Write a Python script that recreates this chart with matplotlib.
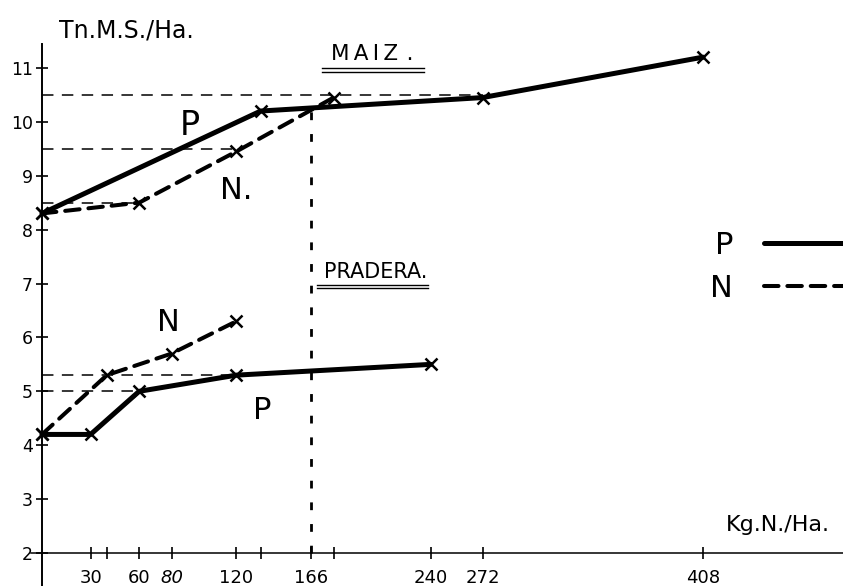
import numpy as np
import matplotlib
matplotlib.use('Agg')
import matplotlib.pyplot as plt
from matplotlib.lines import Line2D

# maiz (corn) yields, Tn M.S./Ha
maiz_p_x = [0, 135, 272, 408]
maiz_p_y = [8.3, 10.2, 10.45, 11.2]
maiz_n_x = [0, 60, 120, 180]
maiz_n_y = [8.3, 8.5, 9.45, 10.45]

# pradera (meadow) yields
prad_p_x = [0, 30, 60, 120, 240]
prad_p_y = [4.2, 4.2, 5.0, 5.3, 5.5]
prad_n_x = [0, 40, 80, 120]
prad_n_y = [4.2, 5.3, 5.7, 6.3]

# guide lines drawn back to the y axis: (level, x where it stops)
guide_levels = [10.5, 9.5, 8.5, 5.3, 5.0]
guide_ends = [272, 120, 60, 120, 60]
vline_x = 166
vline_top = 10.3

y_ticks = [2, 3, 4, 5, 6, 7, 8, 9, 10, 11]
x_ticks = [30, 40, 60, 80, 120, 135, 166, 180, 240, 272, 408]
x_labels = ['30', '', '60', '80', '120', '', '166', '', '240', '272', '408']

plt.rcParams['font.family'] = ['DejaVu Sans']

fig = plt.figure(figsize=(8.43, 5.86), dpi=100)
ax = fig.add_axes([0, 0, 1, 1])
ax.set_xlim(-25.9, 494.4)
ax.set_ylim(1.388, 12.26)

solid_kw = dict(color='black', lw=3.6, solid_capstyle='round', solid_joinstyle='round')
dash_kw = dict(color='black', lw=2.9, dashes=(3.6, 2.2), dash_capstyle='round')
mark_kw = dict(marker='x', ms=9, mew=1.8, mec='black')

ax.plot(maiz_p_x, maiz_p_y, **solid_kw, **mark_kw)
ax.plot(maiz_n_x, maiz_n_y, **dash_kw, **mark_kw)
ax.plot(prad_p_x, prad_p_y, **solid_kw, **mark_kw)
ax.plot(prad_n_x, prad_n_y, **dash_kw, **mark_kw)

for lev, xe in zip(guide_levels, guide_ends):
    ax.plot([0, xe], [lev, lev], color='black', lw=1.1, dashes=(7.5, 5.5), zorder=1)
ax.plot([vline_x, vline_x], [2, vline_top], color='black', lw=2.0, dashes=(2.8, 5.0), zorder=1)

# axes drawn through the origin like the hand drawing
for s in ['top', 'right']:
    ax.spines[s].set_visible(False)
ax.spines['left'].set_position(('data', 0))
ax.spines['bottom'].set_position(('data', 2))
ax.spines['left'].set_bounds(1.39, 11.45)
ax.spines['bottom'].set_bounds(-7, 494.4)
ax.spines['left'].set_linewidth(1.4)
ax.spines['bottom'].set_linewidth(1.1)

ax.set_yticks(y_ticks)
ax.set_yticklabels([str(v) for v in y_ticks], fontsize=12.5)
ax.set_xticks(x_ticks)
ax.set_xticklabels(x_labels, fontsize=13)
ax.tick_params(axis='both', direction='inout', length=9, width=1.2)
ax.tick_params(axis='y', pad=2)
ax.tick_params(axis='x', pad=7)
for lab in ax.get_xticklabels():
    if lab.get_text() == '80':
        lab.set_style('italic')

ax.text(52, 11.70, 'Tn.M.S./Ha.', fontsize=17, ha='center', va='center')
ax.text(454, 2.52, 'Kg.N./Ha.', fontsize=16, ha='center', va='center')

ax.text(204, 11.26, 'M\u2009A\u2009I\u2009Z\u2009\u2009.', fontsize=15.5, ha='center', va='center')
ax.text(206, 7.21, 'PRADERA.', fontsize=15, ha='center', va='center')
# double underline under the two section titles
for y0 in [11.0, 10.93]:
    ax.plot([173, 236], [y0, y0], color='black', lw=1.0)
for y0 in [6.98, 6.91]:
    ax.plot([170, 238], [y0, y0], color='black', lw=1.0)

ax.text(91, 9.94, 'P', fontsize=24, ha='center', va='center')
ax.text(120, 8.73, 'N.', fontsize=22, ha='center', va='center')
ax.text(78, 6.28, 'N', fontsize=22, ha='center', va='center')
ax.text(136, 4.65, 'P', fontsize=22, ha='center', va='center')

handles = [Line2D([], [], **solid_kw), Line2D([], [], **dash_kw)]
ax.legend(handles, ['P', 'N'], loc='center right', bbox_to_anchor=(1.0, 0.545),
          markerfirst=False, frameon=False, fontsize=22, handlelength=2.6,
          handletextpad=1.0, labelspacing=0.45, borderpad=0, borderaxespad=0)

fig.savefig('out.png', dpi=100)
